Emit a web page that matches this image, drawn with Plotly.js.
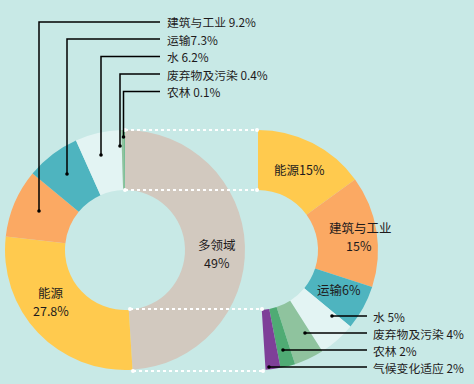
<!DOCTYPE html>
<html><head><meta charset="utf-8">
<script src="https://cdn.plot.ly/plotly-3.0.1.min.js"></script>
<style>html,body{margin:0;padding:0;background:#C8E9E6;overflow:hidden}</style>
</head><body><div id="chart" style="width:474px;height:384px"></div>
<script>
// ---- data ----
const leftLabels = ['多领域', '能源', '建筑与工业', '运输', '水', '废弃物及污染', '农林'];
const leftValues = [49, 27.8, 9.2, 7.3, 6.2, 0.4, 0.1];
const leftColors = ['#D2C9BF', '#FFCA4E', '#FBA963', '#4EB4BF', '#E3F4F3', '#8FC39E', '#4FAB74'];

const rightLabels = ['能源', '建筑与工业', '运输', '水', '废弃物及污染', '农林', '气候变化适应'];
const rightValues = [15, 15, 6, 5, 4, 2, 2];
const rightColors = ['#FFCA4E', '#FBA963', '#4EB4BF', '#E3F4F3', '#8FC39E', '#4FAB74', '#7E3F98'];

const total = 100;
const rightRemainder = total - rightValues.reduce((a, b) => a + b, 0);

// ---- helpers ----
const W = 474, H = 384;
const px = x => x / W;
const py = y => 1 - y / H;
const noSpace = new Set(['运输']);
const fmt = (l, v) => l + (noSpace.has(l) ? '' : ' ') + v + '%';
const FAMILY = '"Noto Sans CJK SC", "Noto Sans", sans-serif';
const FONT = {family: FAMILY, size: 12.5, color: '#1E1B1C'};
const FONT_STACK = {family: FAMILY, size: 11.8, color: '#1E1B1C'};

const traces = [
  {
    type: 'pie', labels: leftLabels, values: leftValues, sort: false,
    direction: 'clockwise', rotation: 0, hole: 0.5,
    marker: {colors: leftColors, line: {width: 0}},
    textinfo: 'none', hoverinfo: 'skip', showlegend: false,
    domain: {x: [px(5), px(245)], y: [py(370), py(130)]}
  },
  {
    type: 'pie', labels: rightLabels.concat(['']), values: rightValues.concat([rightRemainder]), sort: false,
    direction: 'clockwise', rotation: 0, hole: 0.5,
    marker: {colors: rightColors.concat(['rgba(0,0,0,0)']), line: {width: 0}},
    textinfo: 'none', hoverinfo: 'skip', showlegend: false,
    domain: {x: [px(138), px(378)], y: [py(370), py(130)]}
  }
];

const shapes = [];
const annotations = [];

// dotted connector lines between donuts
const dots = [[125, 130, 257, 130], [125, 190, 257, 190], [130, 309, 262, 309], [133, 371, 263, 371]];
dots.forEach(d => {
  shapes.push({type: 'line', xref: 'paper', yref: 'paper', x0: px(d[0]), y0: py(d[1]), x1: px(d[2]), y1: py(d[3]),
    line: {color: '#FFFFFF', width: 2.2, dash: 'dot'}});
  [[d[0], d[1]], [d[2], d[3]]].forEach(p => shapes.push({type: 'circle', xref: 'paper', yref: 'paper',
    x0: px(p[0] - 2), x1: px(p[0] + 2), y0: py(p[1] - 2), y1: py(p[1] + 2), fillcolor: '#FFFFFF', line: {width: 0}}));
});

// left leader lines (labels at top)
const leftLeader = [
  {i: 2, x: 39, y0: 211, y1: 22},
  {i: 3, x: 67, y0: 174, y1: 39},
  {i: 4, x: 101, y0: 155, y1: 56.5},
  {i: 5, x: 120, y0: 146, y1: 74},
  {i: 6, x: 123.5, y0: 137, y1: 91.5}
];
leftLeader.forEach(l => {
  shapes.push({type: 'path', xref: 'paper', yref: 'paper',
    path: `M${px(l.x)},${py(l.y0)} L${px(l.x)},${py(l.y1)} L${px(160)},${py(l.y1)}`,
    line: {color: '#000000', width: 1.5}});
  shapes.push({type: 'circle', xref: 'paper', yref: 'paper', x0: px(l.x - 1.8), x1: px(l.x + 1.8),
    y0: py(l.y0 - 1.8), y1: py(l.y0 + 1.8), fillcolor: '#000', line: {width: 0}});
  annotations.push({xref: 'paper', yref: 'paper', x: px(166), y: py(l.y1), xanchor: 'left', yanchor: 'middle',
    text: fmt(leftLabels[l.i], leftValues[l.i]), showarrow: false, font: FONT_STACK, borderpad: 0});
});

// right leader lines
const rightLeader = [
  {i: 3, x: 332, y: 316},
  {i: 4, x: 305, y: 333},
  {i: 5, x: 283, y: 350},
  {i: 6, x: 269, y: 367}
];
rightLeader.forEach(l => {
  shapes.push({type: 'line', xref: 'paper', yref: 'paper', x0: px(l.x), y0: py(l.y), x1: px(367), y1: py(l.y),
    line: {color: '#000000', width: 1.5}});
  shapes.push({type: 'circle', xref: 'paper', yref: 'paper', x0: px(l.x - 1.8), x1: px(l.x + 1.8),
    y0: py(l.y - 1.8), y1: py(l.y + 1.8), fillcolor: '#000', line: {width: 0}});
  annotations.push({xref: 'paper', yref: 'paper', x: px(372), y: py(l.y), xanchor: 'left', yanchor: 'middle',
    text: fmt(rightLabels[l.i], rightValues[l.i]), showarrow: false, font: FONT_STACK, borderpad: 0});
});

// inside labels (name and value as separate lines, spaced as in the reference)
const inside = [
  {t: leftLabels[0], x: 217, y: 244},
  {t: leftValues[0] + '%', x: 217, y: 262},
  {t: leftLabels[1], x: 51, y: 292},
  {t: leftValues[1] + '%', x: 51, y: 310},
  {t: rightLabels[0] + rightValues[0] + '%', x: 299, y: 170},
  {t: rightLabels[1], x: 360, y: 227},
  {t: rightValues[1] + '%', x: 359, y: 245},
  {t: fmt(rightLabels[2], rightValues[2]), x: 339, y: 289}
];
inside.forEach(a => annotations.push({xref: 'paper', yref: 'paper', x: px(a.x), y: py(a.y),
  xanchor: 'center', yanchor: 'middle', text: a.t, showarrow: false, font: FONT, align: 'center', borderpad: 0}));

const layout = {
  width: W, height: H, margin: {l: 0, r: 0, t: 0, b: 0},
  paper_bgcolor: '#C8E9E6', plot_bgcolor: '#C8E9E6',
  shapes: shapes, annotations: annotations, showlegend: false
};
Plotly.newPlot('chart', traces, layout, {displayModeBar: false, staticPlot: true});
</script>
</body></html>
